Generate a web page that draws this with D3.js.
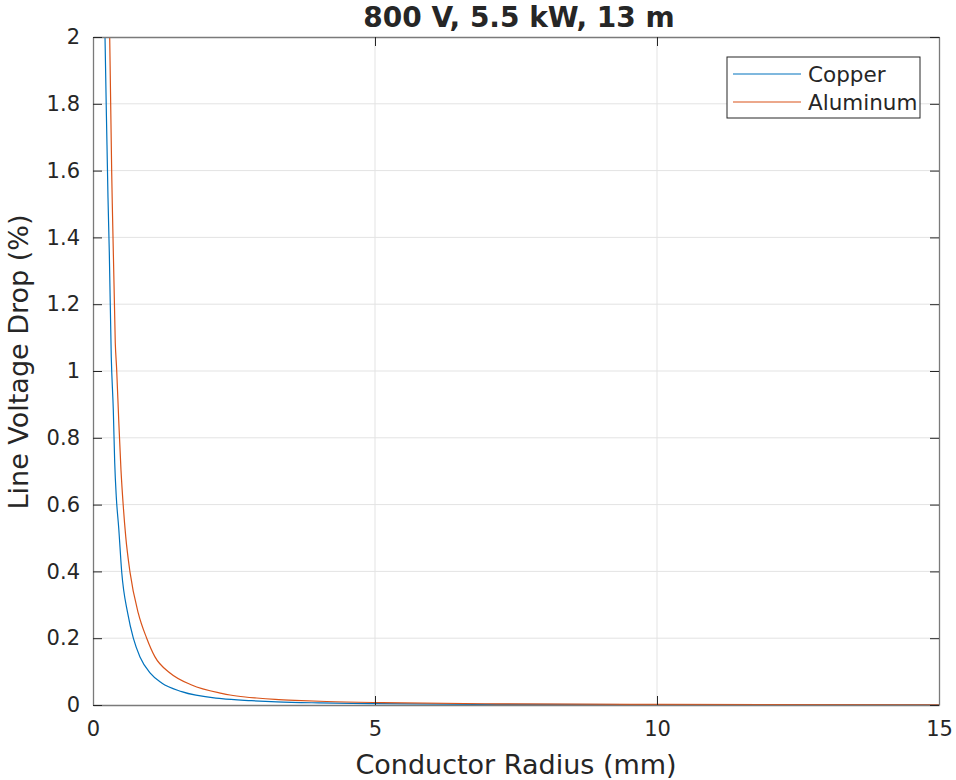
<!DOCTYPE html>
<html>
<head>
<meta charset="utf-8">
<script src="https://cdn.jsdelivr.net/npm/d3@7"></script>
<style>
  body { margin: 0; background: #fff; }
  text { font-family: "DejaVu Sans", sans-serif; fill: #262626; }
</style>
</head>
<body>
<div id="chart"></div>
<script>
// values
var copperRadius = [0.19, 0.213, 0.248, 0.266, 0.289, 0.324, 0.360, 0.385, 0.413, 0.456, 0.509, 0.615, 0.715, 0.833, 1.011, 1.218, 1.573, 2.28, 2.81, 3.26, 4.0, 5.0, 7.0, 10.0, 15.0];
var copperDrop   = [2.3, 2.0, 1.677, 1.518, 1.356, 1.042, 0.883, 0.725, 0.623, 0.53, 0.398, 0.275, 0.2, 0.144, 0.096, 0.066, 0.04, 0.019, 0.013, 0.0094, 0.0063, 0.004, 0.002, 0.001, 0.00045];

var aluminumRadius = [0.28, 0.296, 0.342, 0.395, 0.420, 0.456, 0.496, 0.537, 0.580, 0.656, 0.803, 0.952, 1.099, 1.365, 1.750, 2.28, 2.43, 2.70, 2.90, 3.23, 3.58, 4.14, 5.12, 7.16, 10.0, 15.0];
var aluminumDrop   = [2.3, 2.0, 1.5, 1.084, 1.003, 0.853, 0.704, 0.595, 0.505, 0.398, 0.275, 0.2, 0.144, 0.096, 0.06, 0.035, 0.030, 0.024, 0.021, 0.017, 0.014, 0.0105, 0.007, 0.0035, 0.0018, 0.0008];

var seriesNames = ["Copper", "Aluminum"];
var seriesColors = ["#0072BD", "#D95319"];
var xTicks = [0, 5, 10, 15];
var yTicks = [0, 0.2, 0.4, 0.6, 0.8, 1, 1.2, 1.4, 1.6, 1.8, 2];

var W = 956, H = 780;
var margin = {top: 37, right: 17, bottom: 75, left: 93},
    width = W - margin.left - margin.right,
    height = H - margin.top - margin.bottom;

var svg = d3.select("#chart").append("svg")
    .attr("width", W)
    .attr("height", H);

var g = svg.append("g")
    .attr("transform", "translate(" + margin.left + "," + margin.top + ")");

var x = d3.scaleLinear().domain([0, 15]).range([0, width]);
var y = d3.scaleLinear().domain([0, 2]).range([height, 0]);

// grid
g.append("g").selectAll("line").data(xTicks.slice(1, -1)).enter().append("line")
    .attr("x1", d => x(d)).attr("x2", d => x(d))
    .attr("y1", 0).attr("y2", height)
    .attr("stroke", "#e3e3e3").attr("stroke-width", 1);
g.append("g").selectAll("line").data(yTicks.slice(1, -1)).enter().append("line")
    .attr("y1", d => y(d)).attr("y2", d => y(d))
    .attr("x1", 0).attr("x2", width)
    .attr("stroke", "#e3e3e3").attr("stroke-width", 1);

// lines
var series = [
  copperRadius.map((r, i) => [r, copperDrop[i]]),
  aluminumRadius.map((r, i) => [r, aluminumDrop[i]])
];

svg.append("defs").append("clipPath").attr("id", "clip")
  .append("rect").attr("width", width).attr("height", height);

var line = d3.line()
    .x(d => x(d[0]))
    .y(d => y(d[1]))
    .curve(d3.curveMonotoneX);

g.append("g").attr("clip-path", "url(#clip)")
  .selectAll("path").data(series).enter().append("path")
    .attr("d", line)
    .attr("fill", "none")
    .attr("stroke", (d, i) => seriesColors[i])
    .attr("stroke-width", 1.2);

// axes (MATLAB box style, ticks inside on all sides)
var tickLen = 9;
function styleAxis(sel) {
  sel.select(".domain").attr("stroke", "#7a7a7a").attr("stroke-width", 1.3);
  sel.selectAll(".tick line").attr("stroke", "#262626");
  sel.selectAll(".tick text").style("font-size", "21px").attr("fill", "#262626");
}

g.append("g")
    .attr("transform", "translate(0," + height + ")")
    .call(d3.axisBottom(x).tickValues(xTicks).tickSizeInner(-tickLen).tickSizeOuter(0).tickPadding(16))
    .call(styleAxis);
g.append("g")
    .call(d3.axisTop(x).tickValues(xTicks).tickSizeInner(-tickLen).tickSizeOuter(0).tickFormat(""))
    .call(styleAxis);
g.append("g")
    .call(d3.axisLeft(y).tickValues(yTicks).tickSizeInner(-tickLen).tickSizeOuter(0).tickPadding(13)
      .tickFormat(d3.format("~g")))
    .call(styleAxis);
g.append("g")
    .attr("transform", "translate(" + width + ",0)")
    .call(d3.axisRight(y).tickValues(yTicks).tickSizeInner(-tickLen).tickSizeOuter(0).tickFormat(""))
    .call(styleAxis);

// title and labels
svg.append("text")
    .attr("x", margin.left + width / 2 + 3).attr("y", 27)
    .attr("text-anchor", "middle")
    .style("font-size", "28px").style("font-weight", "bold")
    .attr("fill", "#000")
    .text("800 V, 5.5 kW, 13 m");

svg.append("text")
    .attr("x", margin.left + width / 2).attr("y", 774)
    .attr("text-anchor", "middle")
    .style("font-size", "27px")
    .text("Conductor Radius (mm)");

svg.append("text")
    .attr("transform", "translate(28," + (margin.top + height / 2 - 9) + ") rotate(-90)")
    .attr("text-anchor", "middle")
    .style("font-size", "27px")
    .text("Line Voltage Drop (%)");

// legend
var leg = svg.append("g").attr("transform", "translate(727,57)");
leg.append("rect")
    .attr("width", 193).attr("height", 61)
    .attr("fill", "#fff").attr("stroke", "#262626").attr("stroke-width", 1);
seriesNames.forEach(function(name, i) {
  var yy = 17 + i * 28;
  leg.append("line")
      .attr("x1", 6).attr("x2", 74).attr("y1", yy).attr("y2", yy)
      .attr("stroke", seriesColors[i]).attr("stroke-width", 1.2);
  leg.append("text")
      .attr("x", 81).attr("y", yy + 8)
      .style("font-size", "21.5px").attr("fill", "#000")
      .text(name);
});
</script>
</body>
</html>
